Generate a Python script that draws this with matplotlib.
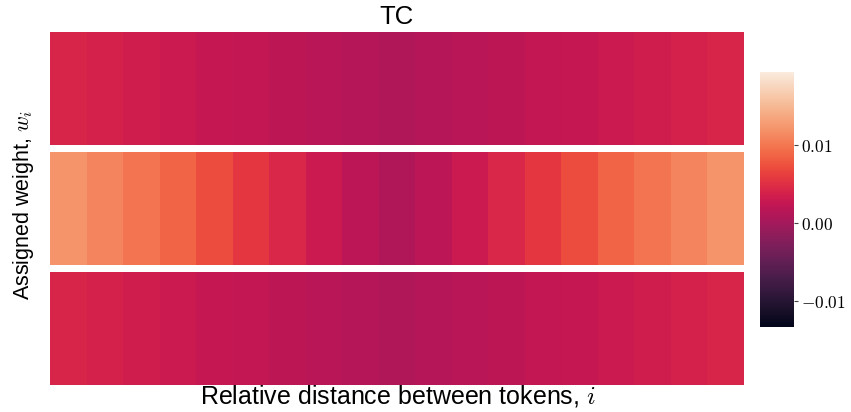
import numpy as np
import matplotlib
matplotlib.use("Agg")
import matplotlib.pyplot as plt
import matplotlib.ticker as mticker
import seaborn as sns

# Learned weight per relative token distance, one array per head row
distances = list(range(19))
row_top = [0.0043, 0.0039, 0.0035, 0.0030, 0.0026, 0.0023, 0.0020, 0.0016, 0.0013, 0.0009,
           0.0013, 0.0016, 0.0020, 0.0023, 0.0026, 0.0030, 0.0035, 0.0039, 0.0043]
row_mid = [0.0122, 0.0110, 0.0099, 0.0087, 0.0072, 0.0057, 0.0044, 0.0030, 0.0018, 0.0008,
           0.0018, 0.0030, 0.0044, 0.0057, 0.0072, 0.0087, 0.0099, 0.0110, 0.0122]
row_bot = [0.0043, 0.0039, 0.0035, 0.0030, 0.0026, 0.0023, 0.0020, 0.0016, 0.0013, 0.0009,
           0.0013, 0.0016, 0.0020, 0.0023, 0.0026, 0.0030, 0.0035, 0.0039, 0.0043]
rows = [row_top, row_mid, row_bot]

vmin, vmax = -0.0133, 0.0194
cbar_ticks = [-0.01, 0.0, 0.01]

plt.rcParams["mathtext.fontset"] = "cm"
plt.rcParams["font.family"] = ["Liberation Sans", "DejaVu Sans"]

W, H = 851, 412
fig = plt.figure(figsize=(W / 100, H / 100), dpi=100)
cmap = sns.color_palette("rocket", as_cmap=True)


def px_axes(x0, y0, x1, y1):
    return fig.add_axes([x0 / W, 1 - y1 / H, (x1 - x0) / W, (y1 - y0) / H])


row_spans = [(32, 145), (152, 265), (272, 385)]
mesh = None
for vals, (ya, yb) in zip(rows, row_spans):
    ax = px_axes(50, ya, 744, yb)
    data = np.array(vals)[None, :]
    mesh = ax.pcolormesh(np.arange(len(distances) + 1), [0, 1], data,
                         cmap=cmap, vmin=vmin, vmax=vmax, shading="flat")
    ax.set_xlim(0, len(distances))
    ax.set_ylim(0, 1)
    ax.set_axis_off()

cax = px_axes(760, 72, 794, 327)
cb = fig.colorbar(mesh, cax=cax)
cb.outline.set_visible(False)
cb.set_ticks(cbar_ticks)
cb.ax.yaxis.set_major_formatter(
    mticker.FuncFormatter(lambda v, p: r"$%.2f$" % v if abs(v) > 1e-9 else r"$0.00$"))
cb.ax.tick_params(length=3, width=0.8, color="#444444", labelsize=12.5, pad=2)

fig.text(397 / W, 1 - 17 / H, "TC", ha="center", va="center", fontsize=18.5)
fig.text(398 / W, 1 - 396 / H, r"Relative distance between tokens, $i$",
         ha="center", va="center", fontsize=18)
fig.text(24 / W, 1 - 205 / H, r"Assigned weight, $w_i$", ha="center", va="center",
         rotation=90, fontsize=15.5)

fig.savefig("out.png", dpi=100)
